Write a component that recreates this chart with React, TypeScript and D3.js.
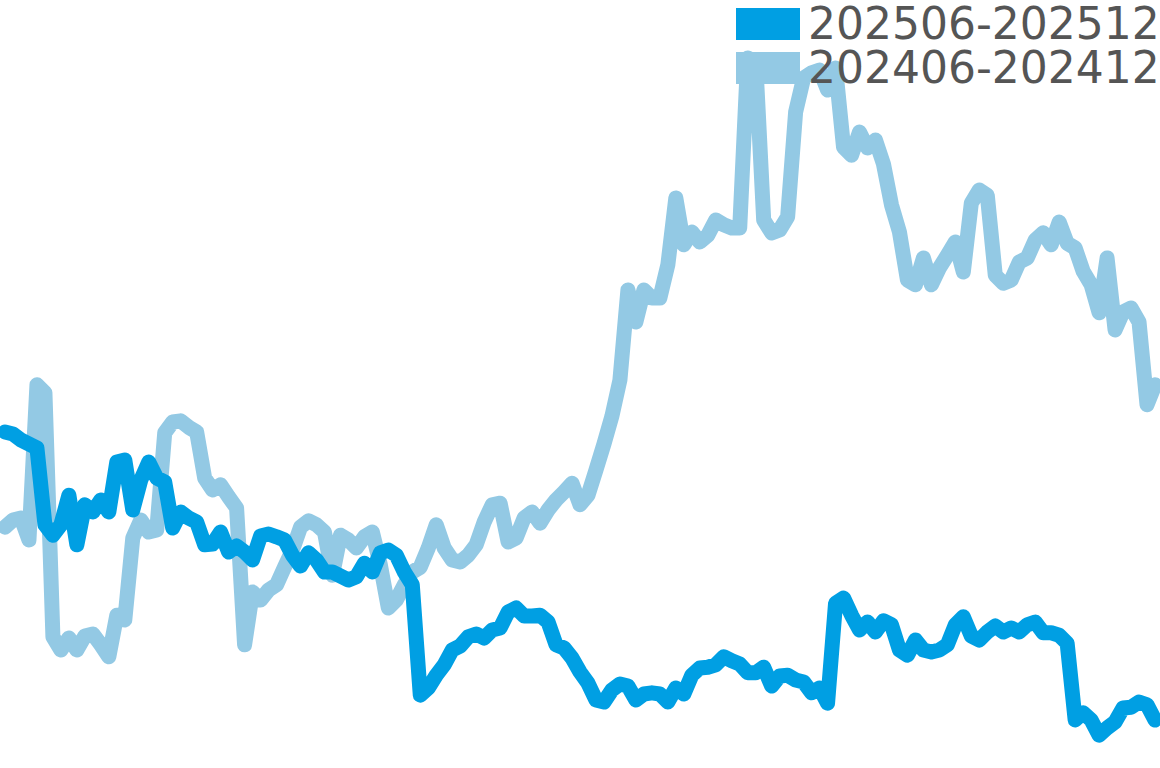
import React from "react";
import * as d3 from "d3";

const seriesNames = ["202506-202512", "202406-202412"];
const seriesColors = ["#009FE3", "#93C9E4"];

const values2025: number[] = [
  42, 41.75, 41, 40.5, 40, 30.4, 29.1, 30.4, 34.1, 27.9,
  32.9, 32, 33.5, 32, 38.25, 38.5, 32.25, 36, 38.25, 36.25,
  35.75, 30, 32, 31.25, 30.75, 27.9, 28, 29.5, 27, 27.75,
  27, 26, 29, 29.25, 28.9, 28.5, 26.6, 25.25, 26.9, 26,
  24.5, 24.5, 24, 23.5, 23.9, 25.6, 24.5, 26.9, 27.25, 26.6,
  24.5, 22.9, 9.1, 10, 11.6, 12.9, 14.75, 15.25, 16.4, 16.75,
  16.25, 17.25, 17.5, 19.5, 20, 19, 19, 19.1, 18.25, 15.4,
  15, 13.75, 12, 10.6, 8.5, 8.25, 9.75, 10.5, 10.25, 8.5,
  9.25, 9.4, 9.25, 8.25, 10, 9.25, 11.6, 12.5, 12.6, 12.9,
  13.9, 13.4, 13, 11.9, 11.9, 12.6, 10.25, 11.5, 11.6, 11,
  10.75, 9.4, 10, 8.1, 20.6, 21.25, 19.1, 17.25, 18.25, 17,
  18.4, 17.9, 14.75, 14.1, 16, 14.75, 14.5, 14.75, 15.4, 17.9,
  18.9, 16.5, 16, 17, 17.75, 17, 17.5, 17, 17.9, 18.25,
  16.9, 16.9, 16.6, 15.6, 6, 6.9, 6, 4.1, 5, 5.75,
  7.5, 7.6, 8.25, 7.9, 6,
];

const values2024: number[] = [
  30.1, 31, 31.25, 28.5, 47.9, 46.9, 16.4, 14.75, 16.25, 14.75,
  16.5, 16.75, 15.4, 13.9, 19.1, 18.5, 28.75, 31, 29.5, 29.75,
  41.9, 43.25, 43.4, 42.6, 42, 36.25, 34.75, 35.4, 33.9, 32.5,
  15.4, 22, 21, 22.25, 22.9, 25.1, 27.25, 30.1, 30.9, 30.4,
  29.5, 24.1, 29.1, 28.5, 27.5, 28.9, 29.5, 25.4, 20, 21,
  22.9, 24.5, 25.1, 27.5, 30.4, 27.5, 26, 25.75, 26.6, 27.9,
  30.75, 32.9, 33.1, 28.25, 28.75, 31.25, 32, 30.6, 32.25, 33.5,
  34.5, 35.6, 32.9, 34.1, 37.25, 40.5, 44, 48.5, 59.75, 55.75,
  59.75, 58.75, 58.75, 62.9, 71.25, 65.4, 67, 65.75, 66.6, 68.5,
  67.9, 67.5, 67.5, 88.75, 88.25, 68.5, 66.9, 67.25, 68.9, 82,
  86.25, 86.9, 87.25, 84.75, 87.5, 77.6, 76.6, 79.5, 77.5, 78.5,
  75.5, 70.4, 67, 61, 60.4, 63.75, 60.4, 62.5, 64.1, 65.75,
  62, 70.6, 72.25, 71.6, 61.6, 60.6, 61, 63.25, 63.75, 66,
  66.9, 65.4, 68.25, 65.6, 65, 62.1, 60.4, 56.9, 63.75, 54.75,
  57, 57.5, 55.75, 45.4, 47.9,
];

const W = 1160;
const H = 768;

export default function App() {
  const n = Math.max(values2025.length, values2024.length);
  const x = d3.scaleLinear().domain([0, n - 1]).range([5, 1155]);
  const y = d3.scaleLinear().domain([0, 96]).range([H, 0]);
  const line = d3
    .line<number>()
    .x((_, i) => x(i))
    .y((d) => y(d));

  const series = [values2025, values2024];
  const drawOrder = [1, 0];

  return (
    <svg
      width={W}
      height={H}
      style={{ position: "absolute", left: 0, top: 0, background: "#fff" }}
    >
      {drawOrder.map((k) => (
        <path
          key={k}
          d={line(series[k]) || ""}
          fill="none"
          stroke={seriesColors[k]}
          strokeWidth={15}
          strokeLinejoin="round"
          strokeLinecap="round"
        />
      ))}
      {seriesNames.map((name, k) => (
        <g key={name} transform={`translate(736, ${8 + k * 44})`}>
          <rect width={64} height={32} fill={seriesColors[k]} />
          <text
            x={72}
            y={31}
            fontFamily="DejaVu Sans"
            fontSize={44}
            fill="#555555"
          >
            {name}
          </text>
        </g>
      ))}
    </svg>
  );
}
